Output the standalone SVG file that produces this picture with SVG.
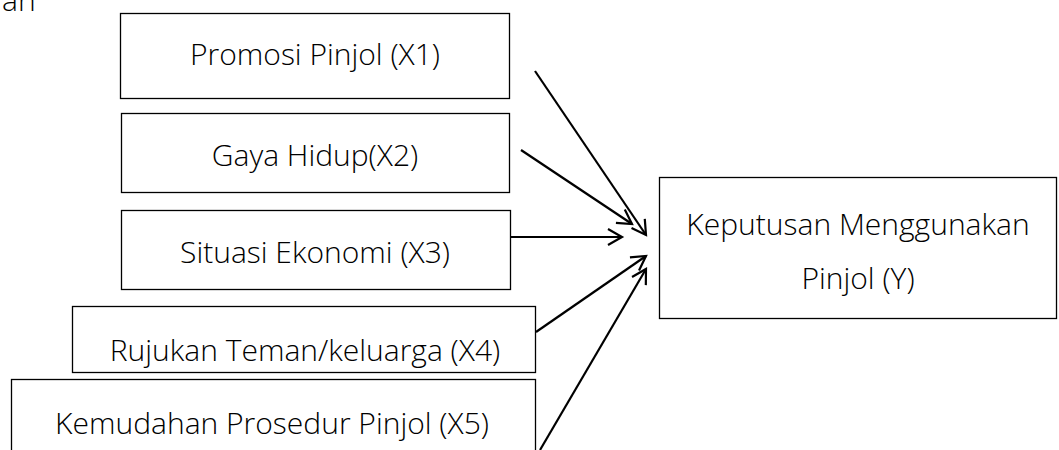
<svg xmlns="http://www.w3.org/2000/svg" width="1059" height="450" viewBox="0 0 1059 450">
<defs>
<style>
.box{fill:#fff;stroke:#000;stroke-width:1.3}
.t{font-family:"Open Sans","Liberation Sans",sans-serif;font-weight:300;font-size:30px;fill:#000;text-anchor:middle}
.c{stroke:#000;stroke-width:2.2;fill:none;marker-end:url(#ah)}
</style>
<marker id="ah" markerUnits="userSpaceOnUse" markerWidth="24" markerHeight="24" refX="18" refY="12" orient="auto">
<path d="M4,4 L18,12 L4,20" fill="none" stroke="#000" stroke-width="2.2"/>
</marker>
</defs>
<rect width="1059" height="450" fill="#fff"/>
<text class="t" x="2" y="11" style="text-anchor:start">an</text>
<g id="x1"><rect class="box" x="120.5" y="13.5" width="389" height="85"/><text class="t" x="315" y="65">Promosi Pinjol (X1)</text></g>
<g id="x2"><rect class="box" x="121.5" y="113.5" width="388" height="79"/><text class="t" x="315" y="166">Gaya Hidup(X2)</text></g>
<g id="x3"><rect class="box" x="121.5" y="210.5" width="389" height="79"/><text class="t" x="315" y="263">Situasi Ekonomi (X3)</text></g>
<g id="x4"><rect class="box" x="72.5" y="306.5" width="463" height="66"/><text class="t" x="305" y="361">Rujukan Teman/keluarga (X4)</text></g>
<g id="x5"><rect class="box" x="11.5" y="379.5" width="524" height="80"/><text class="t" x="272" y="434">Kemudahan Prosedur Pinjol (X5)</text></g>
<g id="y"><rect class="box" x="659.5" y="177.5" width="397" height="141"/><text class="t" x="858" y="235">Keputusan Menggunakan</text><text class="t" x="858" y="289">Pinjol (Y)</text></g>
<g id="connectors">
<line class="c" x1="535" y1="71" x2="646" y2="235"/>
<line class="c" x1="521" y1="150" x2="632" y2="224"/>
<line class="c" x1="511" y1="237" x2="622" y2="237"/>
<line class="c" x1="536" y1="332" x2="646" y2="256"/>
<line class="c" x1="540" y1="450" x2="646" y2="269"/>
</g>
</svg>
